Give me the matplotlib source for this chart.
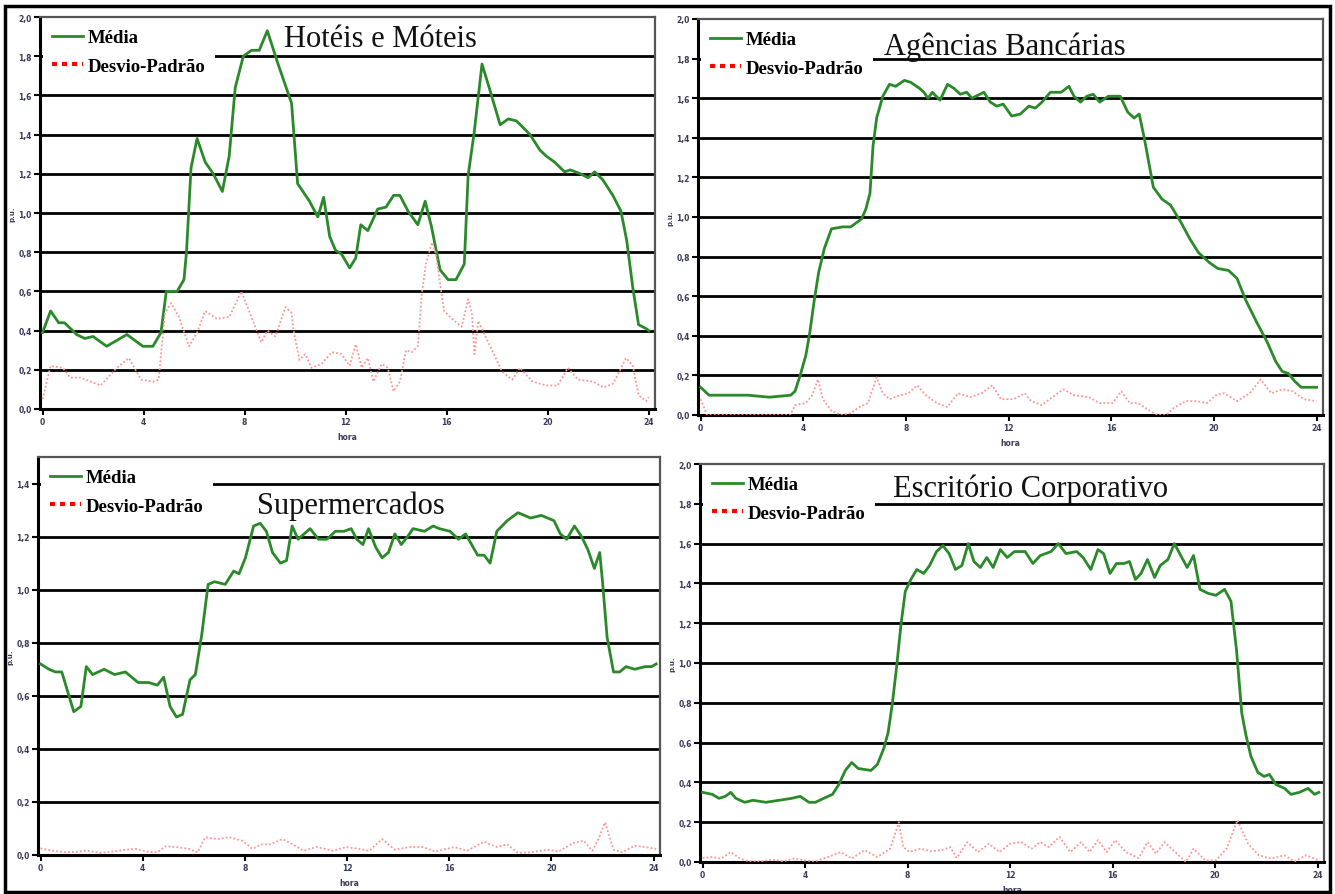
import matplotlib
matplotlib.use("Agg")
import matplotlib.pyplot as plt
from matplotlib.lines import Line2D
from matplotlib.patches import Rectangle
from matplotlib.ticker import FuncFormatter

# ---------------- data ----------------
hot_mean_h = [0, 0.32, 0.64, 0.87, 1.35, 1.67, 2.0, 2.54, 3.34, 3.97, 4.37, 4.69, 4.9, 5.33, 5.6, 5.7, 5.88,
              6.12, 6.44, 6.76, 7.12, 7.39, 7.63, 7.95, 8.27, 8.58, 8.9, 9.3, 9.62, 9.86, 10.1, 10.57, 10.9,
              11.13, 11.37, 11.6, 11.84, 12.16, 12.4, 12.6, 12.88, 13.27, 13.6, 13.9, 14.15, 14.47, 14.86,
              15.15, 15.4, 15.74, 16.06, 16.37, 16.7, 16.85, 17.09, 17.4, 17.73, 18.12, 18.44, 18.76, 19.0,
              19.3, 19.7, 19.95, 20.27, 20.67, 20.9, 21.3, 21.6, 21.86, 22.18, 22.58, 22.9, 23.13, 23.37,
              23.6, 23.9, 24.0]
hot_mean = [0.39, 0.50, 0.44, 0.44, 0.38, 0.36, 0.37, 0.32, 0.38, 0.32, 0.32, 0.39, 0.60, 0.60, 0.66, 0.80,
            1.23, 1.38, 1.26, 1.20, 1.11, 1.29, 1.64, 1.80, 1.83, 1.83, 1.93, 1.77, 1.65, 1.56, 1.15, 1.06,
            0.98, 1.08, 0.88, 0.81, 0.79, 0.72, 0.77, 0.94, 0.91, 1.02, 1.03, 1.09, 1.09, 1.01, 0.94, 1.06,
            0.93, 0.71, 0.66, 0.66, 0.74, 1.19, 1.41, 1.76, 1.62, 1.45, 1.48, 1.47, 1.44, 1.40, 1.32, 1.29,
            1.26, 1.21, 1.22, 1.20, 1.18, 1.21, 1.17, 1.09, 1.01, 0.86, 0.62, 0.43, 0.41, 0.40]
hot_std_h = [0, 0.32, 0.8, 1.1, 1.5, 2.3, 2.94, 3.42, 3.9, 4.37, 4.6, 4.69, 4.85, 5.09, 5.4, 5.8, 6.12, 6.44,
             6.9, 7.4, 7.87, 8.27, 8.66, 8.9, 9.22, 9.62, 9.86, 9.94, 10.17, 10.4, 10.65, 11.05, 11.45, 11.84,
             12.16, 12.4, 12.64, 12.88, 13.1, 13.43, 13.67, 13.9, 14.15, 14.39, 14.63, 14.86, 15.02, 15.18,
             15.42, 15.58, 15.74, 15.9, 16.3, 16.6, 16.85, 17.0, 17.1, 17.25, 17.5, 17.8, 18.2, 18.6, 18.9,
             19.4, 19.95, 20.4, 20.8, 21.2, 21.8, 22.2, 22.6, 23.1, 23.37, 23.6, 23.9, 24.0]
hot_std = [0.05, 0.22, 0.21, 0.16, 0.16, 0.12, 0.21, 0.26, 0.15, 0.14, 0.15, 0.28, 0.49, 0.54, 0.47, 0.32,
           0.39, 0.50, 0.46, 0.47, 0.60, 0.47, 0.34, 0.40, 0.37, 0.52, 0.49, 0.40, 0.25, 0.28, 0.21, 0.23,
           0.29, 0.28, 0.22, 0.33, 0.21, 0.26, 0.14, 0.23, 0.21, 0.09, 0.14, 0.30, 0.29, 0.32, 0.59, 0.74,
           0.85, 0.79, 0.64, 0.50, 0.45, 0.42, 0.56, 0.49, 0.28, 0.45, 0.38, 0.30, 0.19, 0.15, 0.21, 0.14,
           0.12, 0.12, 0.21, 0.15, 0.14, 0.11, 0.13, 0.26, 0.22, 0.07, 0.04, 0.06]

ban_mean_h = [0, 0.33, 1.0, 1.84, 2.68, 3.51, 3.68, 3.88, 4.1, 4.26, 4.43, 4.6, 4.82, 5.1, 5.52, 5.85, 6.27,
              6.44, 6.6, 6.72, 6.86, 7.1, 7.36, 7.6, 7.94, 8.19, 8.53, 8.7, 8.86, 9.03, 9.33, 9.62, 9.87,
              10.12, 10.37, 10.57, 11.04, 11.29, 11.54, 11.79, 12.12, 12.46, 12.79, 13.04, 13.3, 13.63,
              14.05, 14.35, 14.55, 14.8, 15.05, 15.3, 15.55, 15.89, 16.35, 16.64, 16.89, 17.09, 17.3, 17.64,
              17.98, 18.31, 18.73, 19.06, 19.4, 19.82, 20.15, 20.57, 20.9, 21.24, 21.66, 22.07, 22.41, 22.66,
              22.9, 23.15, 23.4, 23.75, 24.0]
ban_mean = [0.14, 0.10, 0.10, 0.10, 0.09, 0.10, 0.12, 0.20, 0.30, 0.42, 0.58, 0.72, 0.84, 0.94, 0.95, 0.95,
            0.99, 1.04, 1.12, 1.36, 1.50, 1.61, 1.67, 1.66, 1.69, 1.68, 1.65, 1.63, 1.60, 1.63, 1.59, 1.67,
            1.65, 1.62, 1.63, 1.60, 1.63, 1.58, 1.56, 1.57, 1.51, 1.52, 1.56, 1.55, 1.58, 1.63, 1.63, 1.66,
            1.61, 1.58, 1.61, 1.62, 1.58, 1.61, 1.61, 1.53, 1.50, 1.52, 1.39, 1.15, 1.09, 1.06, 0.97, 0.89,
            0.82, 0.77, 0.74, 0.73, 0.69, 0.58, 0.47, 0.37, 0.27, 0.22, 0.21, 0.17, 0.14, 0.14, 0.14]
ban_std_h = [0, 0.25, 1.0, 2.0, 3.5, 3.68, 4.1, 4.35, 4.57, 4.77, 5.1, 5.52, 5.85, 6.19, 6.52, 6.86, 7.1, 7.36,
             7.78, 8.1, 8.44, 8.78, 9.2, 9.62, 10.03, 10.5, 10.95, 11.37, 11.7, 12.2, 12.63, 12.88, 13.3, 13.7,
             14.13, 14.55, 15.13, 15.55, 16.05, 16.39, 16.72, 17.06, 17.39, 17.8, 18.14, 18.48, 18.9, 19.3,
             19.73, 20.07, 20.4, 20.9, 21.4, 21.82, 22.24, 22.66, 23.07, 23.5, 24.0]
ban_std = [0.08, 0.0, 0.0, 0.0, 0.0, 0.05, 0.06, 0.10, 0.18, 0.08, 0.02, 0.0, 0.01, 0.04, 0.06, 0.19, 0.11,
           0.08, 0.10, 0.11, 0.15, 0.10, 0.06, 0.04, 0.11, 0.09, 0.11, 0.15, 0.08, 0.08, 0.11, 0.07, 0.05, 0.09,
           0.13, 0.10, 0.09, 0.06, 0.06, 0.12, 0.06, 0.06, 0.03, 0.0, 0.0, 0.04, 0.07, 0.07, 0.06, 0.10, 0.11,
           0.07, 0.11, 0.18, 0.11, 0.13, 0.12, 0.08, 0.07]

sup_mean_h = [0, 0.33, 0.58, 0.83, 1.08, 1.3, 1.58, 1.79, 2.04, 2.49, 2.9, 3.32, 3.82, 4.24, 4.57, 4.82, 5.07,
              5.32, 5.56, 5.85, 6.06, 6.31, 6.56, 6.81, 7.23, 7.56, 7.77, 8.02, 8.34, 8.6, 8.84, 9.08, 9.39,
              9.63, 9.85, 10.08, 10.55, 10.88, 11.21, 11.54, 11.88, 12.16, 12.38, 12.62, 12.84, 13.12, 13.37,
              13.62, 13.87, 14.12, 14.37, 14.58, 15.03, 15.37, 15.61, 16.03, 16.36, 16.64, 17.11, 17.36, 17.6,
              17.86, 18.27, 18.69, 19.19, 19.6, 20.1, 20.35, 20.6, 20.9, 21.18, 21.43, 21.68, 21.89, 22.0,
              22.18, 22.43, 22.67, 22.92, 23.26, 23.67, 23.92, 24.1]
sup_mean = [0.72, 0.70, 0.69, 0.69, 0.61, 0.54, 0.56, 0.71, 0.68, 0.70, 0.68, 0.69, 0.65, 0.65, 0.64, 0.67,
            0.56, 0.52, 0.53, 0.66, 0.68, 0.83, 1.02, 1.03, 1.02, 1.07, 1.06, 1.12, 1.24, 1.25, 1.22, 1.14,
            1.10, 1.11, 1.24, 1.19, 1.23, 1.19, 1.19, 1.22, 1.22, 1.23, 1.19, 1.17, 1.23, 1.16, 1.12, 1.14,
            1.21, 1.17, 1.20, 1.23, 1.22, 1.24, 1.23, 1.22, 1.19, 1.21, 1.13, 1.13, 1.10, 1.22, 1.26, 1.29,
            1.27, 1.28, 1.26, 1.21, 1.19, 1.24, 1.20, 1.15, 1.08, 1.14, 1.03, 0.82, 0.69, 0.69, 0.71, 0.70,
            0.71, 0.71, 0.72]
sup_std_h = [0, 0.5, 1.0, 1.5, 1.83, 2.33, 2.82, 3.32, 3.74, 4.15, 4.57, 4.9, 5.32, 5.81, 6.15, 6.45, 6.9, 7.39,
             7.89, 8.3, 8.64, 8.97, 9.47, 9.97, 10.3, 10.8, 11.46, 11.96, 12.46, 12.87, 13.37, 13.87, 14.45,
             14.95, 15.45, 16.2, 16.7, 17.36, 17.86, 18.27, 18.69, 19.19, 19.85, 20.27, 20.85, 21.26, 21.6,
             21.84, 22.1, 22.43, 22.76, 23.26, 23.67, 24.1]
sup_std = [0.025, 0.016, 0.01, 0.013, 0.016, 0.008, 0.013, 0.02, 0.023, 0.013, 0.01, 0.033, 0.03, 0.023, 0.01,
           0.067, 0.06, 0.067, 0.054, 0.023, 0.04, 0.04, 0.06, 0.035, 0.016, 0.03, 0.016, 0.03, 0.023, 0.016,
           0.06, 0.02, 0.03, 0.03, 0.013, 0.03, 0.016, 0.05, 0.03, 0.04, 0.008, 0.01, 0.02, 0.013, 0.045,
           0.054, 0.016, 0.06, 0.123, 0.02, 0.01, 0.035, 0.03, 0.023]

esc_mean_h = [0, 0.38, 0.64, 0.89, 1.1, 1.3, 1.64, 1.97, 2.47, 2.98, 3.48, 3.81, 4.15, 4.4, 4.73, 5.07, 5.32,
              5.57, 5.82, 6.07, 6.57, 6.82, 7.07, 7.24, 7.41, 7.58, 7.74, 7.91, 8.13, 8.36, 8.63, 8.86, 9.13,
              9.38, 9.62, 9.87, 10.12, 10.37, 10.59, 10.84, 11.09, 11.34, 11.62, 11.89, 12.17, 12.59, 12.89,
              13.18, 13.6, 13.88, 14.18, 14.6, 14.85, 15.15, 15.43, 15.65, 15.9, 16.15, 16.44, 16.66, 16.89,
              17.11, 17.36, 17.64, 17.86, 18.16, 18.41, 18.66, 18.91, 19.16, 19.41, 19.73, 20.03, 20.37, 20.62,
              20.84, 21.04, 21.2, 21.4, 21.67, 21.91, 22.12, 22.37, 22.71, 22.96, 23.29, 23.63, 23.88, 24.05]
esc_mean = [0.35, 0.34, 0.32, 0.33, 0.35, 0.32, 0.30, 0.31, 0.30, 0.31, 0.32, 0.33, 0.30, 0.30, 0.32, 0.34,
            0.39, 0.46, 0.50, 0.47, 0.46, 0.49, 0.57, 0.65, 0.80, 0.99, 1.19, 1.36, 1.42, 1.47, 1.45, 1.49,
            1.56, 1.59, 1.55, 1.47, 1.49, 1.60, 1.51, 1.48, 1.53, 1.48, 1.57, 1.53, 1.56, 1.56, 1.50, 1.54,
            1.56, 1.60, 1.55, 1.56, 1.53, 1.47, 1.57, 1.55, 1.45, 1.50, 1.50, 1.51, 1.42, 1.45, 1.52, 1.43,
            1.49, 1.52, 1.60, 1.54, 1.48, 1.54, 1.37, 1.35, 1.34, 1.37, 1.31, 1.06, 0.75, 0.64, 0.53, 0.45,
            0.43, 0.44, 0.39, 0.37, 0.34, 0.35, 0.37, 0.34, 0.35]
esc_std_h = [0, 0.38, 0.72, 1.1, 1.47, 1.8, 2.3, 2.72, 3.14, 3.56, 3.98, 4.4, 4.9, 5.4, 5.82, 6.32, 6.82, 7.32,
             7.66, 7.83, 8.08, 8.5, 8.9, 9.33, 9.67, 9.92, 10.33, 10.75, 11.17, 11.59, 12.0, 12.42, 12.84, 13.18,
             13.51, 13.93, 14.35, 14.77, 15.1, 15.43, 15.77, 16.1, 16.52, 17.02, 17.36, 17.69, 18.03, 18.44,
             18.86, 19.16, 19.62, 20.03, 20.45, 20.87, 21.29, 21.7, 22.2, 22.7, 23.1, 23.55, 24.05]
esc_std = [0.02, 0.025, 0.017, 0.05, 0.017, 0.003, 0.003, 0.013, 0.003, 0.017, 0.008, 0.003, 0.025, 0.05,
           0.017, 0.06, 0.025, 0.067, 0.20, 0.075, 0.05, 0.067, 0.054, 0.06, 0.075, 0.02, 0.10, 0.05, 0.092,
           0.05, 0.092, 0.10, 0.067, 0.10, 0.075, 0.126, 0.05, 0.10, 0.05, 0.11, 0.05, 0.11, 0.05, 0.02, 0.10,
           0.042, 0.10, 0.05, 0.0, 0.067, 0.008, 0.008, 0.067, 0.21, 0.092, 0.034, 0.017, 0.034, 0.003,
           0.034, 0.008]

titles = ["Hotéis e Móteis", "Agências Bancárias", "Supermercados", "Escritório Corporativo"]
legend_labels = ["Média", "Desvio-Padrão"]
x_ticks = [0, 4, 8, 12, 16, 20, 24]

panels = [
    dict(mean_h=hot_mean_h, mean=hot_mean, std_h=hot_std_h, std=hot_std, ymax=2.0, ytop=2.0,
         rect=[40, 18, 655, 410], title_xy=(0.554, 0.946)),
    dict(mean_h=ban_mean_h, mean=ban_mean, std_h=ban_std_h, std=ban_std, ymax=2.0, ytop=2.0,
         rect=[698, 20, 1323, 416], title_xy=(0.491, 0.930)),
    dict(mean_h=sup_mean_h, mean=sup_mean, std_h=sup_std_h, std=sup_std, ymax=1.4, ytop=1.5,
         rect=[38, 458, 660, 856], title_xy=(0.503, 0.878)),
    dict(mean_h=esc_mean_h, mean=esc_mean, std_h=esc_std_h, std=esc_std, ymax=2.0, ytop=2.0,
         rect=[700, 465, 1324, 863], title_xy=(0.530, 0.938)),
]

W, H = 1335, 895
fig = plt.figure(figsize=(W / 100, H / 100), dpi=100)

GREEN = "#2a8a2a"
PINK = "#ff9494"
TICKC = "#3a3a5a"

fmt = FuncFormatter(lambda v, p: f"{v:.1f}".replace(".", ","))

for i, p in enumerate(panels):
    x0, y0, x1, y1 = p["rect"]
    ax = fig.add_axes([x0 / W, 1 - y1 / H, (x1 - x0) / W, (y1 - y0) / H])
    ax.set_xlim(-0.1, 24.25)
    ax.set_ylim(0, p["ytop"])
    ax.plot(p["mean_h"], p["mean"], color=GREEN, lw=2.0, zorder=3)
    ax.plot(p["std_h"], p["std"], color=PINK, lw=1.3, ls=(0, (1, 1.2)), zorder=3)
    yt = [round(0.2 * k, 1) for k in range(int(round(p["ymax"] / 0.2)) + 1)]
    ax.set_yticks(yt)
    ax.set_xticks(x_ticks)
    ax.yaxis.set_major_formatter(fmt)
    for v in yt[1:]:
        if v < p["ytop"] - 1e-6:
            ax.axhline(v, color="black", lw=2.0, zorder=1)
    ax.tick_params(axis="both", direction="out", length=4, width=1.5, color="black",
                   labelsize=5.5, labelcolor=TICKC, pad=2)
    for lab in ax.get_xticklabels() + ax.get_yticklabels():
        lab.set_fontweight("bold")
    for s in ["left", "bottom"]:
        ax.spines[s].set_linewidth(2.2)
        ax.spines[s].set_color("black")
    for s in ["top", "right"]:
        ax.spines[s].set_linewidth(1.6)
        ax.spines[s].set_color("#555555")
    ax.set_xlabel("hora", fontsize=5.5, fontweight="bold", color=TICKC, labelpad=4)
    ax.set_ylabel("p.u.", fontsize=5, fontweight="bold", color=TICKC, labelpad=2)
    handles = [Line2D([], [], color=GREEN, lw=2.0),
               Line2D([], [], color="#ff0000", lw=3.0, ls=(0, (1.2, 1.2)))]
    leg = ax.legend(handles, legend_labels, loc="upper left", bbox_to_anchor=(0.0, 1.0),
                    prop=dict(family="Liberation Serif", weight="bold", size=13.5),
                    frameon=True, facecolor="white", edgecolor="none", framealpha=1.0,
                    fancybox=False, handlelength=1.65, handletextpad=0.25, labelspacing=0.6,
                    borderpad=0.5, borderaxespad=0.15)
    leg.set_zorder(5)
    ax.text(p["title_xy"][0], p["title_xy"][1], titles[i], transform=ax.transAxes,
            ha="center", va="center", fontsize=22, family="Liberation Serif", color="#111111",
            zorder=6)

fig.patches.append(Rectangle((5 / W, 2 / H), (1330 - 5) / W, (886) / H, transform=fig.transFigure,
                             fill=False, lw=2.5, ec="black"))

fig.savefig("out.png", dpi=100)
